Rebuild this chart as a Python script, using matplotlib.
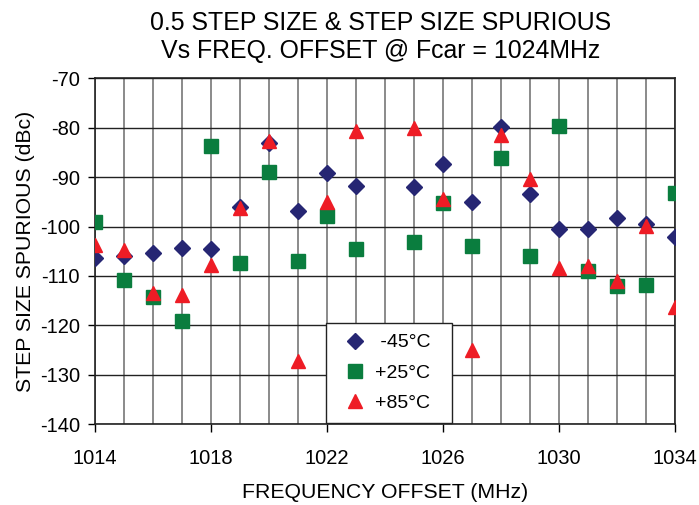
import matplotlib
matplotlib.use("Agg")
import matplotlib.pyplot as plt
import numpy as np

plt.rcParams['font.family'] = ['Liberation Sans', 'DejaVu Sans']
plt.rcParams['axes.unicode_minus'] = False

freq = [1014, 1015, 1016, 1017, 1018, 1019, 1020, 1021, 1022, 1023,
        1025, 1026, 1027, 1028, 1029, 1030, 1031, 1032, 1033, 1034]
minus45 = [-106.4, -105.9, -105.3, -104.4, -104.6, -96.0, -83.0, -96.8, -89.2, -91.7,
           -91.9, -87.4, -95.1, -79.8, -93.4, -100.5, -100.5, -98.3, -99.5, -102.2]
plus25 = [-99.0, -110.8, -114.3, -119.1, -83.8, -107.4, -89.0, -106.9, -97.8, -104.5,
          -103.2, -95.3, -104.0, -86.2, -105.9, -79.6, -109.1, -112.0, -111.8, -93.2]
plus85 = [-103.7, -104.7, -113.5, -113.8, -107.8, -96.2, -82.7, -127.3, -95.1, -80.6,
          -80.0, -94.5, -125.0, -81.4, -90.4, -108.4, -108.0, -111.1, -99.8, -116.2]

x_ticks = [1014, 1018, 1022, 1026, 1030, 1034]
y_ticks = [-140, -130, -120, -110, -100, -90, -80, -70]

fig = plt.figure(figsize=(6.99, 5.05), dpi=100)
ax = fig.add_axes([0.136, 0.160, 0.830, 0.685])

ax.set_xlim(1014, 1034)
ax.set_ylim(-140, -70)
ax.set_xticks(x_ticks)
ax.set_yticks(y_ticks)
ax.set_xticks(np.arange(1014, 1035, 1), minor=True)
ax.grid(True, which='minor', axis='x', color='#8a8a8a', lw=1.4, zorder=0)
ax.grid(True, which='major', axis='x', color='#8a8a8a', lw=1.4, zorder=0)
ax.grid(True, which='major', axis='y', color='#222222', lw=1.0, zorder=0)
ax.tick_params(axis='x', which='minor', length=0)
ax.tick_params(axis='x', which='major', length=6, width=1, direction='out',
               labelsize=14.5, pad=12)
ax.tick_params(axis='y', which='major', length=5, width=1, direction='out',
               labelsize=14.5, pad=6)
ax.set_axisbelow(True)
for s in ax.spines.values():
    s.set_color('#222222')
    s.set_linewidth(1.2)

ax.plot(freq, minus45, linestyle='none', marker='D', ms=8.5, color='#262673',
        mec='#262673', label=' -45°C  ', zorder=3)
ax.plot(freq, plus25, linestyle='none', marker='s', ms=10, color='#0a7d3e',
        mec='#0a7d3e', label='+25°C  ', zorder=3)
ax.plot(freq, plus85, linestyle='none', marker='^', ms=10.5, color='#ee1c25',
        mec='#ee1c25', label='+85°C  ', zorder=3)

leg = ax.legend(loc='upper left', bbox_to_anchor=(0.398, 0.292), fontsize=14,
                frameon=True, fancybox=False, edgecolor='#222222', framealpha=1,
                borderaxespad=0, handletextpad=0.05, borderpad=0.55,
                labelspacing=0.65, handlelength=1.9)
leg.get_frame().set_linewidth(1.0)

ax.set_xlabel('FREQUENCY OFFSET (MHz)', fontsize=15.3, labelpad=11)
ax.set_ylabel('STEP SIZE SPURIOUS (dBc)', fontsize=15.3, labelpad=3)
fig.text(0.545, 0.978,
         '0.5 STEP SIZE & STEP SIZE SPURIOUS\nVs FREQ. OFFSET @ Fcar = 1024MHz',
         fontsize=17.9, ha='center', va='top', linespacing=1.2)

fig.savefig('out.png', dpi=100)
